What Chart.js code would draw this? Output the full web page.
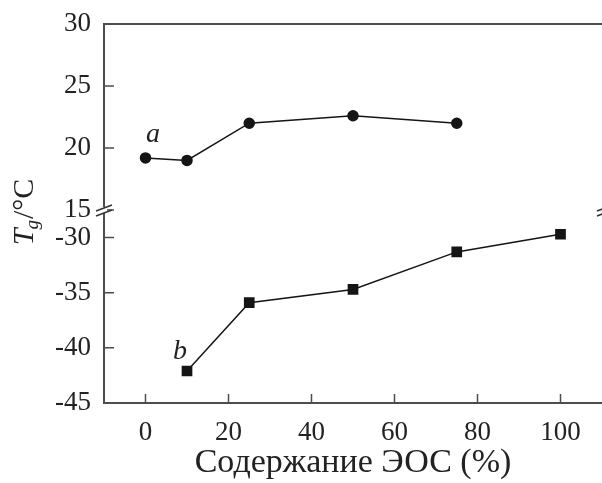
<!DOCTYPE html>
<html>
<head>
<meta charset="utf-8">
<script src="https://cdn.jsdelivr.net/npm/chart.js@4"></script>
<style>
  html, body { margin: 0; padding: 0; background: #fff; overflow: hidden; }
  canvas { display: block; }
</style>
</head>
<body>
<canvas id="tg-chart" width="602" height="483"></canvas>
<script>
// данные: содержание ЭОС (%) и Tg
const seriesAx = [0, 10, 25, 50, 75];
const seriesAy = [19.2, 19.0, 22.0, 22.6, 22.0];
const seriesBx = [10, 25, 50, 75, 100];
const seriesBy = [-42.1, -35.9, -34.7, -31.3, -29.7];

// подписи осей
const xTicks = [0, 20, 40, 60, 80, 100];
const topTicks = [15, 20, 25, 30];
const bottomTicks = [-45, -40, -35, -30];

const serif = '"Liberation Serif", "DejaVu Serif", serif';
const axisColor = '#4d4d4d';
const lineColor = '#151515';

const toPoints = (xs, ys) => xs.map((x, i) => ({ x: x, y: ys[i] }));

// засечки внутрь, рамка сверху, разрывы оси, подписи a/b и заголовок оси Y
const decorPlugin = {
    id: 'decor',
    afterDraw: (chart) => {
        const ctx = chart.ctx;
        const area = chart.chartArea;
        const { x, yTop, yBot } = chart.scales;
        ctx.save();
        ctx.strokeStyle = axisColor;
        ctx.lineWidth = 2;

        // верхняя линия рамки
        ctx.beginPath();
        ctx.moveTo(area.left, area.top);
        ctx.lineTo(area.right, area.top);
        ctx.stroke();

        // засечки
        ctx.lineWidth = 1.5;
        ctx.beginPath();
        [[yTop, topTicks], [yBot, bottomTicks]].forEach(([scale, ticks]) => {
            ticks.forEach(v => {
                const py = scale.getPixelForValue(v);
                ctx.moveTo(area.left, py);
                ctx.lineTo(area.left + 10, py);
            });
        });
        xTicks.forEach(v => {
            const px = x.getPixelForValue(v);
            ctx.moveTo(px, area.bottom);
            ctx.lineTo(px, area.bottom - 9);
        });
        ctx.stroke();

        // разрыв оси
        const breakY = yBot.top;
        const drawBreak = (bx) => {
            ctx.fillStyle = '#fff';
            ctx.fillRect(bx - 3, breakY - 3, 6, 6);
            ctx.strokeStyle = '#333';
            ctx.lineWidth = 1.5;
            ctx.beginPath();
            ctx.moveTo(bx - 8, breakY + 1);
            ctx.lineTo(bx + 8, breakY - 5);
            ctx.moveTo(bx - 8, breakY + 6);
            ctx.lineTo(bx + 8, breakY);
            ctx.stroke();
        };
        drawBreak(area.left);
        drawBreak(area.right + 3);

        // подписи кривых
        ctx.fillStyle = '#222';
        ctx.font = 'italic 28px ' + serif;
        ctx.textAlign = 'center';
        ctx.textBaseline = 'middle';
        ctx.fillText('a', x.getPixelForValue(1.8), yTop.getPixelForValue(21.1));
        ctx.fillText('b', x.getPixelForValue(8.3), yBot.getPixelForValue(-40.3));

        // заголовок оси Y: T_g/°C
        ctx.translate(25, 212);
        ctx.rotate(-Math.PI / 2);
        ctx.textAlign = 'left';
        ctx.textBaseline = 'middle';
        const partT = 'T', partG = 'g', partRest = '/°C';
        ctx.font = 'italic 30px ' + serif;
        const wT = ctx.measureText(partT).width;
        ctx.font = 'italic 19px ' + serif;
        const wG = ctx.measureText(partG).width;
        ctx.font = '30px ' + serif;
        const wR = ctx.measureText(partRest).width;
        let cx = -(wT + wG + wR) / 2;
        ctx.font = 'italic 30px ' + serif;
        ctx.fillText(partT, cx, 0);
        cx += wT;
        ctx.font = 'italic 19px ' + serif;
        ctx.fillText(partG, cx - 1, 8);
        cx += wG;
        ctx.font = '30px ' + serif;
        ctx.fillText(partRest, cx, 0);
        ctx.restore();
    }
};

const yScaleBase = (min, max, ticks, weight) => ({
    type: 'linear',
    position: 'left',
    stack: 'tg',
    stackWeight: weight,
    min: min,
    max: max,
    grid: { display: false, drawTicks: false },
    border: { display: true, color: axisColor, width: 2 },
    afterBuildTicks: (scale) => { scale.ticks = ticks.map(v => ({ value: v })); },
    afterFit: (scale) => {
        scale.width = 104;
        scale.paddingTop = 0;
        scale.paddingBottom = 0;
    },
    ticks: {
        color: '#222',
        padding: 13,
        font: { family: serif, size: 27 }
    }
});

const ctx = document.getElementById('tg-chart').getContext('2d');
const chart = new Chart(ctx, {
    type: 'line',
    data: {
        datasets: [{
            label: 'a',
            data: toPoints(seriesAx, seriesAy),
            yAxisID: 'yTop',
            borderColor: lineColor,
            backgroundColor: lineColor,
            borderWidth: 1.5,
            pointStyle: 'circle',
            pointRadius: 5,
            pointHoverRadius: 5,
            tension: 0
        }, {
            label: 'b',
            data: toPoints(seriesBx, seriesBy),
            yAxisID: 'yBot',
            borderColor: lineColor,
            backgroundColor: lineColor,
            borderWidth: 1.5,
            pointStyle: 'rect',
            pointRadius: 6.5,
            pointHoverRadius: 6.5,
            tension: 0
        }]
    },
    options: {
        responsive: false,
        animation: false,
        layout: { autoPadding: false, padding: { top: 24, right: 0, left: 0, bottom: 0 } },
        plugins: {
            legend: { display: false },
            tooltip: { enabled: false }
        },
        scales: {
            x: {
                type: 'linear',
                min: -10,
                max: 110,
                grid: { display: false, drawTicks: false },
                border: { display: true, color: axisColor, width: 2 },
                afterBuildTicks: (scale) => { scale.ticks = xTicks.map(v => ({ value: v })); },
                afterFit: (scale) => {
                    scale.height = 80;
                    scale.paddingRight = 0;
                    scale.paddingLeft = 0;
                },
                ticks: {
                    color: '#222',
                    padding: 14,
                    maxRotation: 0,
                    font: { family: serif, size: 27 }
                },
                title: {
                    display: true,
                    text: 'Содержание ЭОС (%)',
                    color: '#222',
                    padding: 0,
                    font: { family: serif, size: 34 }
                }
            },
            yBot: yScaleBase(-45, -27.5, bottomTicks, 193),
            yTop: yScaleBase(15, 30, topTicks, 186)
        }
    },
    plugins: [decorPlugin]
});
</script>
</body>
</html>
